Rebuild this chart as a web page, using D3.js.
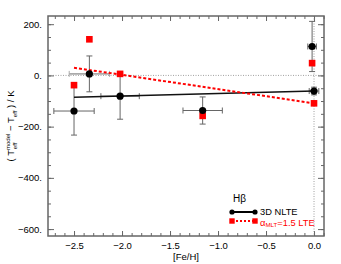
<!DOCTYPE html>
<html>
<head>
<meta charset="utf-8">
<script src="https://cdn.jsdelivr.net/npm/d3@7"></script>
<style>
  body { margin: 0; background: #fff; }
  svg { display: block; font-family: "Liberation Sans", Arial, sans-serif; }
  .axis text { font-size: 9.5px; fill: #000; }
  .axis line { stroke: #666; stroke-width: 1; }
  .axis path { display: none; }
</style>
</head>
<body>
<div class="chart"></div>
<script>
// data
var feh      = [-2.50, -2.34, -2.02, -1.16, -0.02, 0.00];
var fehErr   = [0.21, 0.21, 0.20, 0.205, 0.045, 0.05];
var dT3D     = [-139, 6, -81, -137, 113, -61];
var dT3DErr  = [94, 70, 90, 53, 98, 15];
var dTLTE    = [-38, 141, 6, -158, 48, -109];
// linear fits
var fitX     = [-2.50, 0.00];
var fit3D    = [-85, -61];
var fitLTE   = [30, -109];
// ticks
var xTicks = [-2.5, -2.0, -1.5, -1.0, -0.5, 0.0];
var yTicks = [200, 0, -200, -400, -600];

var svgWidth = 341, svgHeight = 264;
var margin = {top: 16, right: 17, bottom: 28, left: 48};
var width = svgWidth - margin.left - margin.right;
var height = svgHeight - margin.top - margin.bottom;

var svg = d3.select(".chart").append("svg")
  .attr("width", svgWidth)
  .attr("height", svgHeight);

var chartGroup = svg.append("g")
  .attr("transform", `translate(${margin.left}, ${margin.top})`);

var x = d3.scaleLinear().domain([-2.771, 0.104]).range([0, width]);
var y = d3.scaleLinear().domain([-627, 232]).range([height, 0]);

var minus = s => s.replace("-", "\u2212");
var xMinor = d3.range(-27, 2).map(d => d / 10);
var yMinor = d3.range(-600, 201, 50);

// axes, ticks pointing inward
chartGroup.append("g").attr("class", "axis")
  .attr("transform", `translate(0, ${height})`)
  .call(d3.axisBottom(x).tickValues(xMinor).tickSize(-3).tickFormat(""));
chartGroup.append("g").attr("class", "axis")
  .attr("transform", `translate(0, ${height})`)
  .call(d3.axisBottom(x).tickValues(xTicks).tickSize(-5).tickPadding(6)
    .tickFormat(d => minus(d3.format(".1f")(d))));
chartGroup.append("g").attr("class", "axis")
  .call(d3.axisTop(x).tickValues(xMinor).tickSize(-3).tickFormat(""));
chartGroup.append("g").attr("class", "axis")
  .call(d3.axisTop(x).tickValues(xTicks).tickSize(-5).tickFormat(""));

chartGroup.append("g").attr("class", "axis")
  .call(d3.axisLeft(y).tickValues(yMinor).tickSize(-3).tickFormat(""));
chartGroup.append("g").attr("class", "axis")
  .call(d3.axisLeft(y).tickValues(yTicks).tickSize(-6).tickPadding(6)
    .tickFormat(d => minus(String(d)) + "."));
chartGroup.append("g").attr("class", "axis")
  .attr("transform", `translate(${width}, 0)`)
  .call(d3.axisRight(y).tickValues(yMinor).tickSize(-3).tickFormat(""));
chartGroup.append("g").attr("class", "axis")
  .attr("transform", `translate(${width}, 0)`)
  .call(d3.axisRight(y).tickValues(yTicks).tickSize(-6).tickFormat(""));

// reference dotted lines
chartGroup.append("line")
  .attr("x1", 0).attr("x2", width).attr("y1", y(0)).attr("y2", y(0))
  .attr("stroke", "#888").attr("stroke-width", 0.8).attr("stroke-dasharray", "1,1.5");
chartGroup.append("line")
  .attr("x1", x(0)).attr("x2", x(0)).attr("y1", 0).attr("y2", height)
  .attr("stroke", "#888").attr("stroke-width", 0.8).attr("stroke-dasharray", "1,1.5");

// frame
chartGroup.append("rect")
  .attr("width", width).attr("height", height)
  .attr("fill", "none").attr("stroke", "#666").attr("stroke-width", 1.5);

// error bars
var pts = feh.map((f, i) => ({f: f, fe: fehErr[i], t: dT3D[i], te: dT3DErr[i], l: dTLTE[i]}));
var errG = chartGroup.append("g").attr("stroke", "#666").attr("stroke-width", 1);
pts.forEach(function(d, i) {
  var col = i === 1 ? "#aaa" : "#666";
  var sw = i === 1 ? 1.8 : 1;
  // horizontal
  errG.append("line").attr("x1", x(d.f - d.fe)).attr("x2", x(d.f + d.fe))
    .attr("y1", y(d.t)).attr("y2", y(d.t)).attr("stroke", col).attr("stroke-width", sw);
  [d.f - d.fe, d.f + d.fe].forEach(function(v) {
    errG.append("line").attr("x1", x(v)).attr("x2", x(v))
      .attr("y1", y(d.t) - 3).attr("y2", y(d.t) + 3).attr("stroke", col);
  });
  // vertical
  errG.append("line").attr("x1", x(d.f)).attr("x2", x(d.f))
    .attr("y1", y(d.t - d.te)).attr("y2", y(d.t + d.te));
  [d.t - d.te, d.t + d.te].forEach(function(v) {
    errG.append("line").attr("x1", x(d.f) - 3).attr("x2", x(d.f) + 3)
      .attr("y1", y(v)).attr("y2", y(v));
  });
});

// fit lines
chartGroup.append("line")
  .attr("x1", x(fitX[0])).attr("x2", x(fitX[1]))
  .attr("y1", y(fit3D[0])).attr("y2", y(fit3D[1]))
  .attr("stroke", "#111").attr("stroke-width", 1.5);
chartGroup.append("line")
  .attr("x1", x(fitX[0])).attr("x2", x(fitX[1]))
  .attr("y1", y(fitLTE[0])).attr("y2", y(fitLTE[1]))
  .attr("stroke", "#f00").attr("stroke-width", 2).attr("stroke-dasharray", "3,2");

// points
chartGroup.selectAll(".sq").data(pts).enter().append("rect")
  .attr("x", d => x(d.f) - 3.3).attr("y", d => y(d.l) - 3.3)
  .attr("width", 6.6).attr("height", 6.6).attr("fill", "#f00");
chartGroup.selectAll(".dot").data(pts).enter().append("circle")
  .attr("cx", d => x(d.f)).attr("cy", d => y(d.t)).attr("r", 3.6).attr("fill", "#000");

// legend
var lg = svg.append("g");
lg.append("text").attr("x", 233).attr("y", 202).attr("font-size", 10).text("H\u03b2");
lg.append("line").attr("x1", 232).attr("x2", 255).attr("y1", 212).attr("y2", 212)
  .attr("stroke", "#000").attr("stroke-width", 2);
[232, 255].forEach(function(cx) {
  lg.append("circle").attr("cx", cx).attr("cy", 212).attr("r", 2.6).attr("fill", "#000");
});
lg.append("text").attr("x", 260).attr("y", 215).attr("font-size", 9.3).text("3D NLTE");
lg.append("line").attr("x1", 232).attr("x2", 255).attr("y1", 221).attr("y2", 221)
  .attr("stroke", "#f00").attr("stroke-width", 2).attr("stroke-dasharray", "2,2");
[232, 255].forEach(function(cx) {
  lg.append("rect").attr("x", cx - 2.7).attr("y", 218.3).attr("width", 5.4).attr("height", 5.4)
    .attr("fill", "#f00");
});
var lt = lg.append("text").attr("x", 260).attr("y", 225.5).attr("font-size", 9.3).attr("fill", "#f00");
lt.append("tspan").text("\u03b1");
lt.append("tspan").attr("font-size", 6.2).attr("dy", 1.5).text("MLT");
lt.append("tspan").attr("dy", -1.5).text("=1.5 LTE");

// axis titles
svg.append("text")
  .attr("x", margin.left + width / 2).attr("y", 260)
  .attr("text-anchor", "middle").attr("font-size", 9.5).text("[Fe/H]");

var yl = svg.append("text")
  .attr("transform", `translate(14, ${margin.top + height / 2}) rotate(-90)`)
  .attr("text-anchor", "middle").attr("font-size", 9.5);
yl.append("tspan").text("( T");
yl.append("tspan").attr("font-size", 6).attr("dy", -4).text("model");
yl.append("tspan").attr("font-size", 6).attr("dx", -15.5).attr("dy", 7).text("eff");
yl.append("tspan").attr("dx", 9).attr("dy", -3).text(" \u2212 T");
yl.append("tspan").attr("font-size", 6).attr("dy", 3).text("eff");
yl.append("tspan").attr("dy", -3).text(" ) / K");
</script>
</body>
</html>
